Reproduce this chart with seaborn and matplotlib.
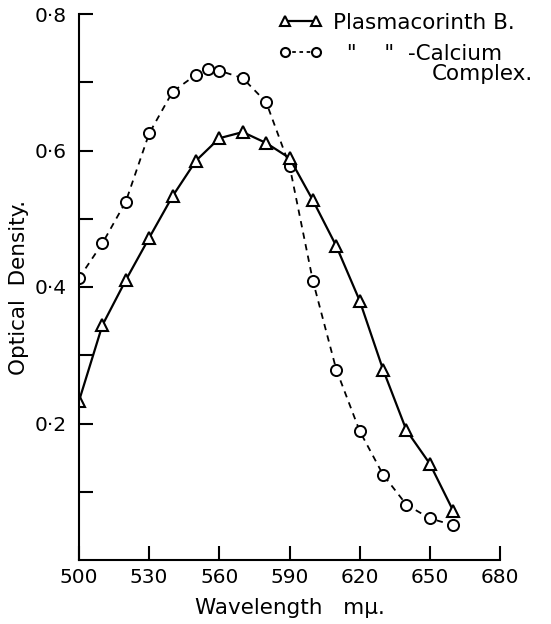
import numpy as np
import pandas as pd
import matplotlib
matplotlib.use("Agg")
import matplotlib.pyplot as plt
from matplotlib.lines import Line2D
from matplotlib.ticker import FixedLocator, FuncFormatter
import seaborn as sns

# wavelengths (m\u03bc) and optical densities
wl_plasma = [500, 510, 520, 530, 540, 550, 560, 570, 580, 590,
             600, 610, 620, 630, 640, 650, 660]
od_plasma = [0.233, 0.344, 0.410, 0.472, 0.533, 0.585, 0.618, 0.627, 0.611, 0.589,
             0.527, 0.460, 0.380, 0.279, 0.190, 0.141, 0.072]

wl_calcium = [500, 510, 520, 530, 540, 550, 555, 560, 570, 580, 590,
              600, 610, 620, 630, 640, 650, 660]
od_calcium = [0.413, 0.464, 0.525, 0.625, 0.686, 0.711, 0.720, 0.717, 0.706, 0.671, 0.578,
              0.409, 0.279, 0.189, 0.125, 0.081, 0.061, 0.051]

x_ticks = [500, 530, 560, 590, 620, 650, 680]
y_major = [0.2, 0.4, 0.6, 0.8]
y_minor = [0.1, 0.3, 0.5, 0.7]

sns.set_style("ticks")
plt.rcParams["font.family"] = ["DejaVu Sans"]
for k in ["text.color", "axes.labelcolor", "xtick.color", "ytick.color", "axes.edgecolor"]:
    plt.rcParams[k] = "black"

FS = 14.5    # tick labels
FL = 15.5    # axis labels and legend
DASH = (0, (3.5, 3))

fig = plt.figure(figsize=(5.51, 6.24), dpi=100)
ax = fig.add_axes([79 / 551, 1 - 560 / 624, 421 / 551, 546 / 624])

df_p = pd.DataFrame({"wl": wl_plasma, "od": od_plasma})
df_c = pd.DataFrame({"wl": wl_calcium, "od": od_calcium})

sns.lineplot(data=df_c, x="wl", y="od", ax=ax, color="black", lw=1.3,
             linestyle=DASH, marker="o", markersize=8,
             markerfacecolor="white", markeredgecolor="black", markeredgewidth=1.4)
sns.lineplot(data=df_p, x="wl", y="od", ax=ax, color="black", lw=1.6,
             marker="^", markersize=8.5,
             markerfacecolor="white", markeredgecolor="black", markeredgewidth=1.5)

ax.set_xlim(500, 680)
ax.set_ylim(0, 0.8)
sns.despine(ax=ax)
for s in ["left", "bottom"]:
    ax.spines[s].set_linewidth(1.5)

ax.xaxis.set_major_locator(FixedLocator(x_ticks))
ax.yaxis.set_major_locator(FixedLocator(y_major))
ax.yaxis.set_minor_locator(FixedLocator(y_minor))
ax.yaxis.set_major_formatter(FuncFormatter(lambda v, p: f"{v:.1f}".replace(".", "\u00b7")))
ax.tick_params(which="both", direction="in", length=10, width=1.5)
ax.tick_params(axis="x", labelsize=FS, pad=6)
ax.tick_params(axis="y", labelsize=FS, pad=9)

ax.set_xlabel("Wavelength   m\u03bc.", fontsize=FL, labelpad=8)
ax.set_ylabel("Optical  Density.", fontsize=FL, labelpad=4)

handles = [
    Line2D([], [], color="black", lw=1.6, marker="^", markersize=6.5,
           markerfacecolor="white", markeredgewidth=1.5),
    Line2D([], [], color="black", lw=1.3, linestyle=(0, (2, 2)), marker="o", markersize=6.5,
           markerfacecolor="white", markeredgewidth=1.5),
]
labels = ["Plasmacorinth B.", '  "    "  -Calcium']
fig.legend(handles, labels, loc="upper left",
           bbox_to_anchor=(279 / 551, 1 - 13 / 624), frameon=False,
           numpoints=2, handlelength=2.0, handletextpad=0.5,
           labelspacing=0.5, borderpad=0, borderaxespad=0, fontsize=FL)
fig.text(432 / 551, 1 - 74 / 624, "Complex.", fontsize=FL, va="center", ha="left")

fig.savefig("out.png", dpi=100)
